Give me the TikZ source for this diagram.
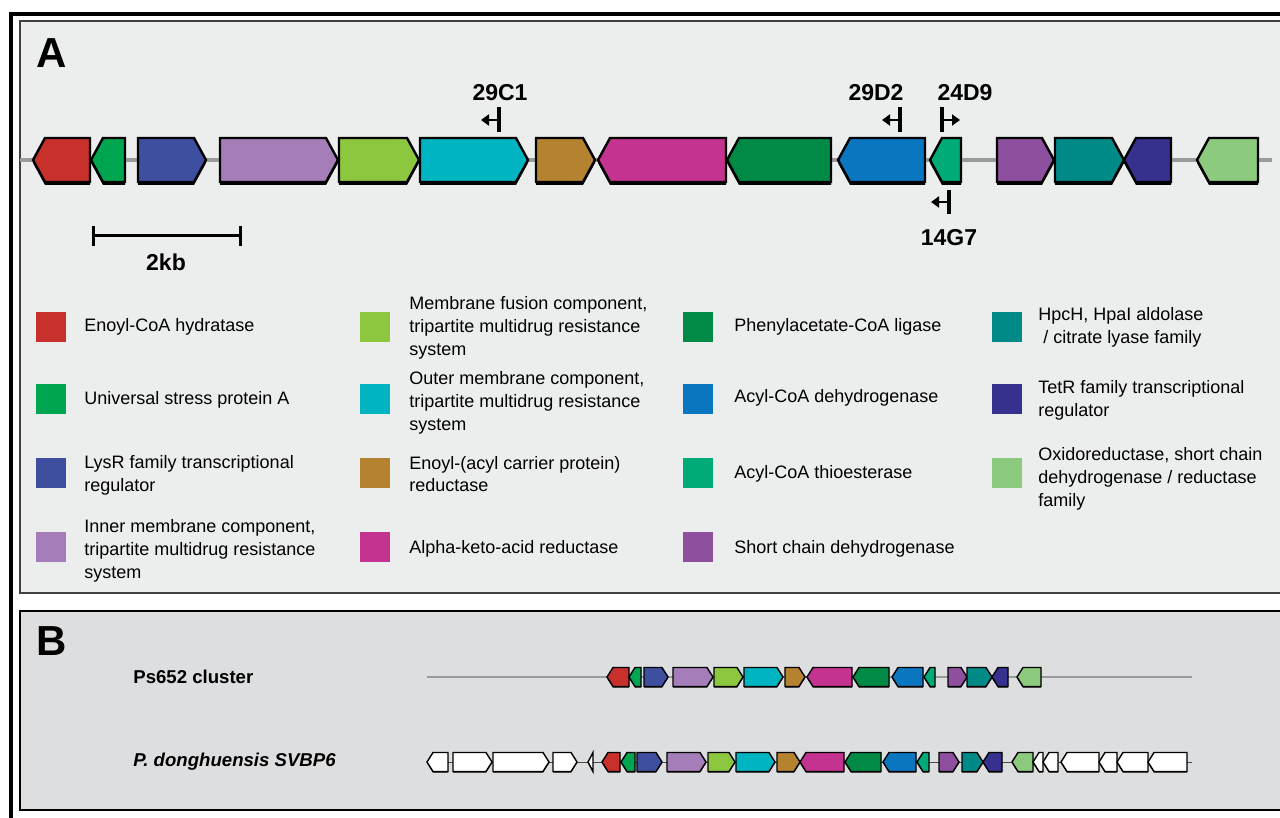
\documentclass[tikz,border=0pt]{standalone}
\usepackage{fontspec}
\setmainfont{Liberation Sans}
\usetikzlibrary{arrows.meta}

\definecolor{cEch}{HTML}{C8302C}
\definecolor{cUsp}{HTML}{00A54F}
\definecolor{cLysR}{HTML}{3F4FA0}
\definecolor{cInner}{HTML}{A57DB8}
\definecolor{cFusion}{HTML}{8DC63F}
\definecolor{cOuter}{HTML}{00B4C1}
\definecolor{cEnr}{HTML}{B5832F}
\definecolor{cAkr}{HTML}{C4338F}
\definecolor{cPaa}{HTML}{008A45}
\definecolor{cAcd}{HTML}{0B76C0}
\definecolor{cThio}{HTML}{00AB78}
\definecolor{cSdr}{HTML}{8E4F9E}
\definecolor{cHpc}{HTML}{008A87}
\definecolor{cTetR}{HTML}{36318F}
\definecolor{cOxr}{HTML}{8CCB7E}
\definecolor{panelA}{HTML}{ECEDED}
\definecolor{panelB}{HTML}{DDDEE0}
\definecolor{backbone}{HTML}{9A9B9D}

\newcommand{\gnr}[3]{%
  \pgfmathsetmacro\gk{min(\gt,#2-#1)}%
  \fill[black] (#1,\gy-\gh+\gs) -- (#2-\gk,\gy-\gh+\gs) -- (#2,\gy+\gs) -- (#2-\gk,\gy+\gh+\gs) -- (#1,\gy+\gh+\gs) -- cycle;
  \filldraw[gene,fill=#3] (#1,\gy-\gh) -- (#2-\gk,\gy-\gh) -- (#2,\gy) -- (#2-\gk,\gy+\gh) -- (#1,\gy+\gh) -- cycle;}
\newcommand{\gnl}[3]{%
  \pgfmathsetmacro\gk{min(\gt,#2-#1)}%
  \fill[black] (#1,\gy+\gs) -- (#1+\gk,\gy-\gh+\gs) -- (#2,\gy-\gh+\gs) -- (#2,\gy+\gh+\gs) -- (#1+\gk,\gy+\gh+\gs) -- cycle;
  \filldraw[gene,fill=#3] (#1,\gy) -- (#1+\gk,\gy-\gh) -- (#2,\gy-\gh) -- (#2,\gy+\gh) -- (#1+\gk,\gy+\gh) -- cycle;}

\begin{document}
\begin{tikzpicture}[x=0.5pt,y=-0.5pt,
    gene/.style={draw=black,line width=1.2pt,line join=miter},
    legbox/.style={fill=#1,minimum size=15pt,inner sep=0pt},
    legtext/.style={anchor=west,align=left,inner sep=0pt,font=\fontsize{9}{11.4}\selectfont},
    plab/.style={font=\fontsize{11.5}{13}\selectfont\bfseries,inner sep=0pt},
    panlab/.style={font=\fontsize{21}{24}\selectfont\bfseries,inner sep=0pt},
    primer/.style={line width=2pt},
    primarrow/.style={line width=1.2pt,-{Triangle[length=4pt,width=5.5pt]}}]
    \useasboundingbox (0,0) rectangle (1280,818);
    \clip (0,0) rectangle (1280,818);
    \fill[white] (0,0) rectangle (1280,818);
    \draw[line width=2pt] (11,14) rectangle (1320,860);
    \draw[fill=panelA,draw=black!75,line width=0.6pt] (20,21) rectangle (1320,593);
    \draw[fill=panelB,draw=black,line width=1.4pt] (20,611) rectangle (1320,810);
    \node[panlab] (pA) at (52,53) {A};
    \node[panlab] (pB) at (52,641) {B};

    \draw[backbone,line width=2pt] (20,160) -- (1272,160);
    \def\gy{160}\def\gh{22}\def\gt{12}\def\gs{3}
    \gnl{33}{90}{cEch}
    \gnl{91}{125}{cUsp}
    \gnr{138}{206}{cLysR}
    \gnr{220}{338}{cInner}
    \gnr{339}{419}{cFusion}
    \gnr{420}{528}{cOuter}
    \gnr{536}{595}{cEnr}
    \gnl{598}{726}{cAkr}
    \gnl{727}{831}{cPaa}
    \gnl{838}{925}{cAcd}
    \gnl{930}{961}{cThio}
    \gnr{997}{1054}{cSdr}
    \gnr{1055}{1124}{cHpc}
    \gnl{1124}{1171}{cTetR}
    \gnl{1197}{1258}{cOxr}

    \node[plab] (p29c1) at (500,93) {29C1};
    \node[plab] (p29d2) at (876,93) {29D2};
    \node[plab] (p24d9) at (965,93) {24D9};
    \node[plab] (p14g7) at (949,238) {14G7};
    \coordinate (b29c1) at (499,120);
    \coordinate (b29d2) at (900,120);
    \coordinate (b24d9) at (942,120);
    \coordinate (b14g7) at (949,202);
    \draw[primer] (499,107) -- (499,132);
    \draw[primarrow] (b29c1) -- ++(-18,0);
    \draw[primer] (900,107) -- (900,132);
    \draw[primarrow] (b29d2) -- ++(-18,0);
    \draw[primer] (942,107) -- (942,132);
    \draw[primarrow] (b24d9) -- ++(18,0);
    \draw[primer] (949,190) -- (949,214);
    \draw[primarrow] (b14g7) -- ++(-18,0);

    \draw[line width=1.5pt] (93,226) -- (93,246) (93,236) -- (240,236) (240,226) -- (240,246);
    \node[plab] (kb) at (166,262) {2kb};

    \node[legbox=cEch] (kEch) at (51,327) {};
    \node[legtext] (tEch) at (84,327) {Enoyl-CoA hydratase};
    \node[legbox=cUsp] (kUsp) at (51,399) {};
    \node[legtext] (tUsp) at (84,400) {Universal stress protein A};
    \node[legbox=cLysR] (kLysR) at (51,473) {};
    \node[legtext] (tLysR) at (84,475) {LysR family transcriptional\\regulator};
    \node[legbox=cInner] (kInner) at (51,547) {};
    \node[legtext] (tInner) at (84,551) {Inner membrane component,\\tripartite multidrug resistance\\system};

    \node[legbox=cFusion] (kFusion) at (375,327) {};
    \node[legtext] (tFusion) at (409,328) {Membrane fusion component,\\tripartite multidrug resistance\\system};
    \node[legbox=cOuter] (kOuter) at (375,399) {};
    \node[legtext] (tOuter) at (409,403) {Outer membrane component,\\tripartite multidrug resistance\\system};
    \node[legbox=cEnr] (kEnr) at (375,473) {};
    \node[legtext] (tEnr) at (409,474) {Enoyl-(acyl carrier protein)\\reductase};
    \node[legbox=cAkr] (kAkr) at (375,547) {};
    \node[legtext] (tAkr) at (409,549) {Alpha-keto-acid reductase};

    \node[legbox=cPaa] (kPaa) at (698,327) {};
    \node[legtext] (tPaa) at (734,327) {Phenylacetate-CoA ligase};
    \node[legbox=cAcd] (kAcd) at (698,399) {};
    \node[legtext] (tAcd) at (734,398) {Acyl-CoA dehydrogenase};
    \node[legbox=cThio] (kThio) at (698,473) {};
    \node[legtext] (tThio) at (734,474) {Acyl-CoA thioesterase};
    \node[legbox=cSdr] (kSdr) at (698,547) {};
    \node[legtext] (tSdr) at (734,549) {Short chain dehydrogenase};

    \node[legbox=cHpc] (kHpc) at (1007,327) {};
    \node[legtext] (tHpc) at (1038,327) {HpcH, HpaI aldolase\\\hspace{2.5pt}/ citrate lyase family};
    \node[legbox=cTetR] (kTetR) at (1007,399) {};
    \node[legtext] (tTetR) at (1038,400) {TetR family transcriptional\\regulator};
    \node[legbox=cOxr] (kOxr) at (1007,473) {};
    \node[legtext] (tOxr) at (1038,479) {Oxidoreductase, short chain\\dehydrogenase / reductase\\family};

    \node[legtext,font=\fontsize{9.3}{11}\selectfont\bfseries] (nPs) at (133,677) {Ps652 cluster};
    \node[legtext,font=\fontsize{9.3}{11}\selectfont\bfseries\itshape] (nSv) at (133,762) {P. donghuensis SVBP6};

    \tikzset{gene/.style={draw=black,line width=0.7pt,line join=miter}}
    \draw[backbone,line width=1.1pt] (427,677) -- (1192,677);
    \def\gy{677}\def\gh{9.5}\def\gt{6}\def\gs{1.2}
    \gnl{607}{629}{cEch}
    \gnl{629}{641}{cUsp}
    \gnr{644}{668}{cLysR}
    \gnr{673}{713}{cInner}
    \gnr{714}{743}{cFusion}
    \gnr{744}{783}{cOuter}
    \gnr{785}{805}{cEnr}
    \gnl{807}{852}{cAkr}
    \gnl{853}{889}{cPaa}
    \gnl{892}{923}{cAcd}
    \gnl{924}{935}{cThio}
    \gnr{948}{967}{cSdr}
    \gnr{967}{992}{cHpc}
    \gnl{992}{1008}{cTetR}
    \gnl{1017}{1041}{cOxr}

    \draw[black!70,line width=0.5pt] (427,762) -- (1192,762);
    \def\gy{762}\def\gh{9.5}\def\gt{6}\def\gs{1.2}
    \gnl{427}{448}{white}
    \gnr{453}{492}{white}
    \gnr{493}{549}{white}
    \gnr{553}{577}{white}
    \gnl{588}{593}{white}
    \gnl{602}{620}{cEch}
    \gnl{621}{635}{cUsp}
    \gnr{637}{662}{cLysR}
    \gnr{667}{706}{cInner}
    \gnr{708}{735}{cFusion}
    \gnr{736}{775}{cOuter}
    \gnr{777}{800}{cEnr}
    \gnl{800}{844}{cAkr}
    \gnl{845}{881}{cPaa}
    \gnl{883}{916}{cAcd}
    \gnl{917}{929}{cThio}
    \gnr{939}{959}{cSdr}
    \gnr{962}{983}{cHpc}
    \gnl{983}{1002}{cTetR}
    \gnl{1012}{1033}{cOxr}
    \gnl{1033}{1043}{white}
    \gnl{1043}{1058}{white}
    \gnl{1061}{1099}{white}
    \gnl{1099}{1117}{white}
    \gnl{1117}{1148}{white}
    \gnl{1148}{1187}{white}
\end{tikzpicture}
\end{document}
